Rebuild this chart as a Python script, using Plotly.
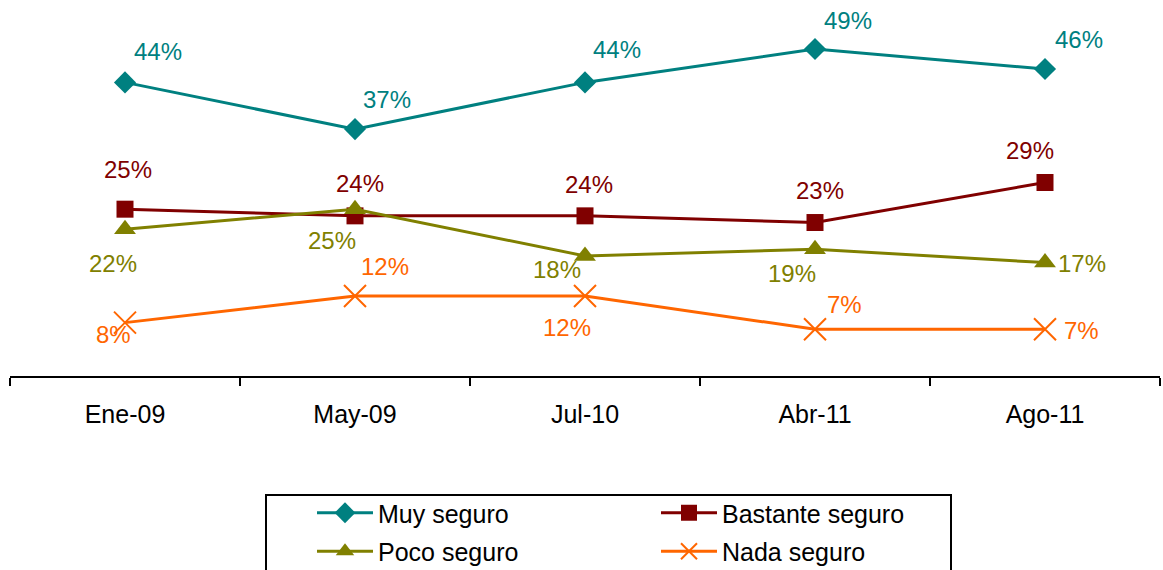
import plotly.graph_objects as go

categories = ["Ene-09", "May-09", "Jul-10", "Abr-11", "Ago-11"]
muy_seguro = [44, 37, 44, 49, 46]
bastante_seguro = [25, 24, 24, 23, 29]
poco_seguro = [22, 25, 18, 19, 17]
nada_seguro = [8, 12, 12, 7, 7]

series_names = ["Muy seguro", "Bastante seguro", "Poco seguro", "Nada seguro"]
series_values = [muy_seguro, bastante_seguro, poco_seguro, nada_seguro]

# styling
colors = ["#008080", "#800000", "#808000", "#FF6600"]
symbols = ["diamond", "square", "triangle-up", "x-thin-open"]
msizes = [17, 17, 19, 22]
legend_ids = ["legend", "legend2", "legend", "legend2"]
# label offsets in pixels (dx, dy) with dy positive = up
label_offsets = [
    [(33, 31), (32, 30), (32, 33), (33, 29), (34, 30)],
    [(3, 40), (5, 32), (4, 31), (5, 32), (-15, 32)],
    [(-12, -34), (-23, -31), (-28, -14), (-23, -24), (37, -1)],
    [(-12, -12), (30, 29), (-18, -32), (29, 25), (36, -1)],
]

FONT = "Liberation Sans, Arial, sans-serif"
W, H = 1163, 570
ML, MR, MT, MB = 10, 3, 9, 194
PW = W - ML - MR
PH = H - MT - MB

fig = go.Figure()
annotations = []
for name, vals, col, sym, ms, offs, lg in zip(series_names, series_values, colors, symbols,
                                             msizes, label_offsets, legend_ids):
    fig.add_trace(go.Scatter(
        x=categories, y=vals, name=name, mode="lines+markers",
        line=dict(color=col, width=3), legend=lg, legendgroup=name,
        marker=dict(symbol=sym, size=ms, color=col,
                    line=dict(color=col, width=2 if sym.startswith("x") else 0)),
    ))
    for c, v, (dx, dy) in zip(categories, vals, offs):
        annotations.append(dict(
            x=c, y=v, xref="x", yref="y", text=f"{v}%", showarrow=False,
            xshift=dx, yshift=dy, xanchor="center", yanchor="middle",
            borderpad=0,
            font=dict(family=FONT, size=24, color=col),
        ))

legend_common = dict(
    orientation="v", xref="container", yref="container",
    xanchor="left", yanchor="top", itemwidth=56,
    bgcolor="rgba(0,0,0,0)", borderwidth=0,
    font=dict(family=FONT, size=25, color="black"),
    tracegroupgap=3, itemclick=False, itemdoubleclick=False,
)

fig.update_layout(
    width=W, height=H,
    margin=dict(l=ML, r=MR, t=MT, b=MB, autoexpand=False),
    paper_bgcolor="white", plot_bgcolor="white",
    font=dict(family=FONT, size=25, color="black"),
    showlegend=True,
    legend=dict(x=312 / W, y=1 - 490 / H, **legend_common),
    legend2=dict(x=656 / W, y=1 - 490 / H, **legend_common),
    annotations=annotations,
    shapes=[dict(type="rect", xref="paper", yref="paper",
                 x0=(266 - ML) / PW, x1=(951 - ML) / PW,
                 y0=(MT + PH - 495) / PH, y1=-1.0,
                 line=dict(color="black", width=2), fillcolor="rgba(0,0,0,0)")],
)
fig.update_xaxes(
    type="category", range=[-0.5, 4.5], tickson="boundaries",
    ticks="outside", ticklen=8, tickwidth=2, tickcolor="black",
    showline=True, linecolor="black", linewidth=2, showgrid=False,
    ticklabelstandoff=15, tickfont=dict(family=FONT, size=25, color="black"),
)
fig.update_yaxes(range=[0, 55], visible=False, showgrid=False, zeroline=False)

fig.write_html("out.html", config={"displayModeBar": False},
               post_script="document.body.style.margin='0';")
